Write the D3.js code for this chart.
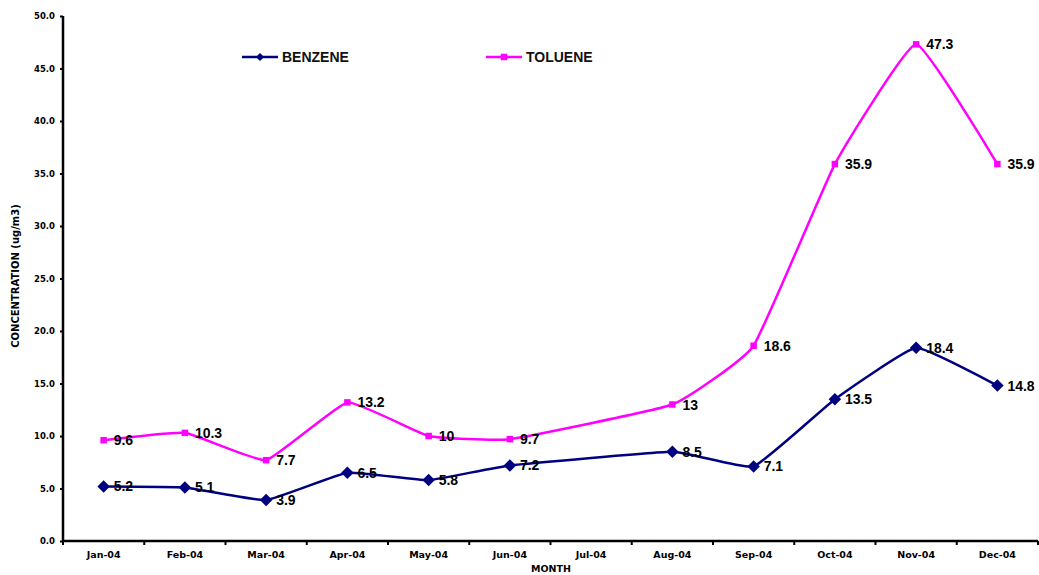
<!DOCTYPE html>
<html>
<head>
<meta charset="utf-8">
<script src="https://cdn.jsdelivr.net/npm/d3@7"></script>
<style>
  html, body { margin: 0; padding: 0; background: #fff; }
  svg { display: block; }
  text { font-family: "Liberation Sans", Arial, sans-serif; }
</style>
</head>
<body>
<svg id="chart" width="1039" height="575"></svg>
<script>
// Monthly concentrations (ug/m3); July 2004 has no measurement
const months = ["Jan-04","Feb-04","Mar-04","Apr-04","May-04","Jun-04","Jul-04","Aug-04","Sep-04","Oct-04","Nov-04","Dec-04"];
const benzene = [5.2, 5.1, 3.9, 6.5, 5.8, 7.2, null, 8.5, 7.1, 13.5, 18.4, 14.8];
const toluene = [9.6, 10.3, 7.7, 13.2, 10, 9.7, null, 13, 18.6, 35.9, 47.3, 35.9];
const yTicks = [0, 5, 10, 15, 20, 25, 30, 35, 40, 45, 50];

const svg = d3.select("#chart");
const plotLeft = 63, plotRight = 1038, plotTop = 16, plotBottom = 541;

const x = d3.scaleBand().domain(months).range([plotLeft, plotRight]).paddingInner(0).paddingOuter(0);
const y = d3.scaleLinear().domain([0, 50]).range([plotBottom, plotTop]);
const cx = m => x(m) + x.bandwidth() / 2;

const smallFont = "'DejaVu Sans', Verdana, sans-serif";

// Axes
const yAxis = svg.append("g")
  .attr("transform", `translate(${plotLeft},0)`)
  .call(d3.axisLeft(y).tickValues(yTicks).tickFormat(d3.format(".1f")).tickSize(3).tickPadding(5));
const xAxis = svg.append("g")
  .attr("transform", `translate(0,${plotBottom})`)
  .call(d3.axisBottom(x).tickSize(0).tickPadding(10));

[yAxis, xAxis].forEach(g => {
  g.select(".domain").attr("stroke", "#000").attr("stroke-width", 2.5);
  g.selectAll(".tick line").attr("stroke", "#000").attr("stroke-width", 2);
  g.selectAll("text").attr("fill", "#000").style("font-weight", "bold").style("font-family", smallFont);
});
yAxis.selectAll("text").style("font-size", "8.5px");
xAxis.selectAll("text").style("font-size", "9.5px");
xAxis.select(".domain").attr("d", `M${plotLeft},0H${plotRight}`);
yAxis.select(".domain").attr("d", `M0,${plotBottom}V${plotTop}`);

// Category boundary ticks on the x axis
xAxis.selectAll(".bound")
  .data(months.map(m => x(m)).concat([plotRight]))
  .join("line")
  .attr("class", "bound")
  .attr("x1", d => d).attr("x2", d => d)
  .attr("y1", 0).attr("y2", 4)
  .attr("stroke", "#000").attr("stroke-width", 2);

// Axis titles
svg.append("text")
  .attr("x", 551).attr("y", 572)
  .attr("text-anchor", "middle")
  .style("font-size", "9.5px").style("font-weight", "bold")
  .style("font-family", smallFont)
  .text("MONTH");
svg.append("text")
  .attr("transform", `translate(19,276) rotate(-90)`)
  .attr("text-anchor", "middle")
  .style("font-size", "10px").style("font-weight", "bold")
  .style("font-family", smallFont)
  .text("CONCENTRATION (ug/m3)");

// Series
const series = [
  { name: "BENZENE", values: benzene, color: "#000080", marker: "diamond", legendX: 242 },
  { name: "TOLUENE", values: toluene, color: "#ff00ff", marker: "square", legendX: 486 }
];

const line = d3.line()
  .x(d => cx(d.m))
  .y(d => y(d.v))
  .curve(d3.curveCardinal.tension(0.65));

// Diamonds are squares turned by 45 degrees
const diamond = d3.symbol().type(d3.symbolSquare).size(78);
const diamondSmall = d3.symbol().type(d3.symbolSquare).size(32);
const square = d3.symbol().type(d3.symbolSquare).size(42);

series.forEach(s => {
  const pts = months.map((m, i) => ({ m, v: s.values[i] })).filter(d => d.v !== null);
  const g = svg.append("g");
  g.append("path")
    .datum(pts)
    .attr("d", line)
    .attr("fill", "none")
    .attr("stroke", s.color)
    .attr("stroke-width", 2.5);
  g.selectAll("path.mk")
    .data(pts)
    .join("path")
    .attr("class", "mk")
    .attr("transform", d => `translate(${cx(d.m)},${y(d.v)})${s.marker === "diamond" ? " rotate(45)" : ""}`)
    .attr("d", s.marker === "diamond" ? diamond : square)
    .attr("fill", s.color);
  g.selectAll("text.lbl")
    .data(pts)
    .join("text")
    .attr("class", "lbl")
    .attr("x", d => cx(d.m) + 10)
    .attr("y", d => y(d.v) + 5)
    .style("font-size", "14px").style("font-weight", "bold")
    .attr("fill", "#000")
    .text(d => String(d.v));

  // Legend entry
  const ly = 57;
  svg.append("line")
    .attr("x1", s.legendX).attr("x2", s.legendX + 36)
    .attr("y1", ly).attr("y2", ly)
    .attr("stroke", s.color).attr("stroke-width", 2.5);
  svg.append("path")
    .attr("transform", `translate(${s.legendX + 18},${ly})${s.marker === "diamond" ? " rotate(45)" : ""}`)
    .attr("d", s.marker === "diamond" ? diamondSmall : square)
    .attr("fill", s.color);
  svg.append("text")
    .attr("x", s.legendX + 40).attr("y", ly + 5)
    .style("font-size", "14px").style("font-weight", "bold")
    .attr("fill", "#111")
    .text(s.name);
});
</script>
</body>
</html>
